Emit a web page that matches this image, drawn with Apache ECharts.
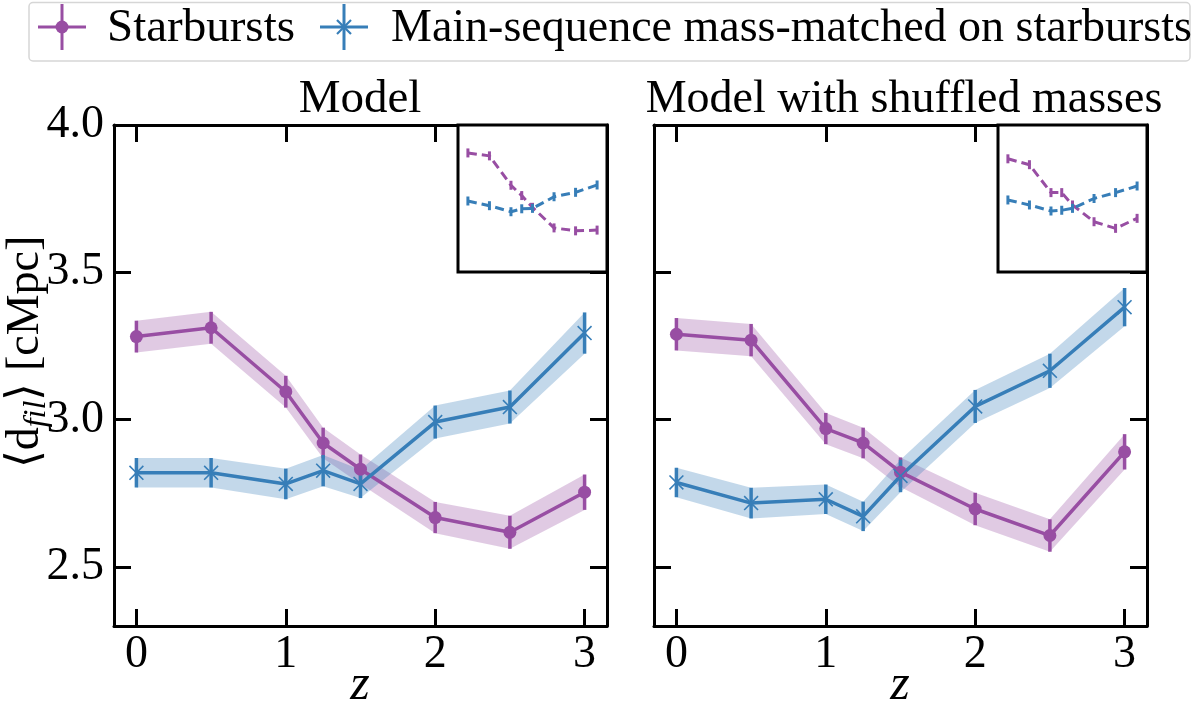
<!DOCTYPE html>
<html><head><meta charset="utf-8">
<script src="https://cdn.jsdelivr.net/npm/echarts@6/dist/echarts.min.js"></script>
<style>html,body{margin:0;padding:0;background:#fff;font-family:'Liberation Serif'}#c{width:1200px;height:714px}</style>
</head><body><div id="c"></div>
<script>
// ---- data ----
const zValues = [0, 0.5, 1, 1.25, 1.5, 2, 2.5, 3];
const xTickValues = [0, 1, 2, 3];
const yTickValues = [2.5, 3.0, 3.5, 4.0];
const panelTitles = ['Model', 'Model with shuffled masses'];
const seriesNames = ['Starbursts', 'Main-sequence mass-matched on starbursts'];

// Panel 1: Model
const sbModel    = [3.282, 3.312, 3.095, 2.921, 2.832, 2.668, 2.618, 2.754];
const sbModelErr = [0.054, 0.054, 0.054, 0.052, 0.050, 0.053, 0.056, 0.060];
const msModel    = [2.820, 2.820, 2.782, 2.827, 2.782, 2.992, 3.043, 3.294];
const msModelErr = [0.050, 0.050, 0.052, 0.053, 0.048, 0.056, 0.056, 0.070];
// Panel 2: Model with shuffled masses
const sbShuf     = [3.290, 3.270, 2.970, 2.921, 2.822, 2.697, 2.607, 2.891];
const sbShufErr  = [0.055, 0.055, 0.053, 0.052, 0.050, 0.055, 0.055, 0.060];
const msShuf     = [2.787, 2.717, 2.730, 2.672, 2.809, 3.045, 3.166, 3.382];
const msShufErr  = [0.050, 0.052, 0.050, 0.050, 0.055, 0.056, 0.058, 0.065];
// Insets (relative units, 0 = inset bottom, 1 = inset top)
const insetSbModel = [0.81, 0.79, 0.59, 0.52, 0.44, 0.30, 0.28, 0.285];
const insetMsModel = [0.483, 0.451, 0.41, 0.43, 0.433, 0.512, 0.542, 0.592];
const insetSbShuf  = [0.77, 0.73, 0.54, 0.54, 0.456, 0.342, 0.297, 0.365];
const insetMsShuf  = [0.49, 0.456, 0.415, 0.42, 0.433, 0.50, 0.54, 0.585];

// ---- styles ----
const PURPLE = '#984ea3', BLUE = '#377eb8';
const FONT = 'Liberation Serif';
const QFONT = "'Liberation Serif'";
const chart = echarts.init(document.getElementById('c'), null, {renderer: 'canvas'});

const xSymbol = 'path://M0,1.5L1.5,0L10,8.5L18.5,0L20,1.5L11.5,10L20,18.5L18.5,20L10,11.5L1.5,20L0,18.5L8.5,10Z';

const gBase = {outerBoundsMode: 'none', containLabel: false};
const grids = [
  Object.assign({left: 114, top: 125, width: 493, height: 501}, gBase),
  Object.assign({left: 654, top: 125, width: 493, height: 501}, gBase),
  Object.assign({left: 458, top: 125, width: 149, height: 147, show: true, backgroundColor: '#fff', borderColor: '#000', borderWidth: 3, z: 5}, gBase),
  Object.assign({left: 998, top: 125, width: 149, height: 147, show: true, backgroundColor: '#fff', borderColor: '#000', borderWidth: 3, z: 5}, gBase)
];

const axisLine = {show: true, onZero: false, lineStyle: {color: '#000', width: 3}};
const tick = (vals) => ({show: true, inside: true, length: 17, lineStyle: {color: '#000', width: 3}, customValues: vals});
const labelStyle = {fontFamily: FONT, fontSize: 46, color: '#000'};

const xAxes = [], yAxes = [];
for (let p = 0; p < 2; p++) {
  xAxes.push({type: 'value', gridIndex: p, min: -0.15, max: 3.15, position: 'bottom',
    axisLine, axisTick: tick(xTickValues), splitLine: {show: false},
    axisLabel: Object.assign({show: true, margin: 6, customValues: xTickValues, formatter: v => String(v)}, labelStyle)});
  xAxes.push({type: 'value', gridIndex: p, min: -0.15, max: 3.15, position: 'top',
    axisLine, axisTick: tick(xTickValues), splitLine: {show: false}, axisLabel: {show: false}});
  yAxes.push({type: 'value', gridIndex: p, min: 2.3, max: 4.0, position: 'left',
    axisLine, axisTick: tick(yTickValues), splitLine: {show: false},
    axisLabel: Object.assign({show: p === 0, margin: 10, customValues: yTickValues, formatter: v => v.toFixed(1)}, labelStyle)});
  yAxes.push({type: 'value', gridIndex: p, min: 2.3, max: 4.0, position: 'right',
    axisLine, axisTick: tick(yTickValues), splitLine: {show: false}, axisLabel: {show: false}});
}
// inset axes
for (let p = 0; p < 2; p++) {
  xAxes.push({type: 'value', gridIndex: 2 + p, min: -0.23, max: 3.23, show: false});
  yAxes.push({type: 'value', gridIndex: 2 + p, min: 0, max: 1, show: false});
}

function bandSeries(ys, es, color, xi, yi) {
  const data = zValues.map((x, i) => [x, ys[i] - es[i], ys[i] + es[i]]);
  return {
    type: 'custom', xAxisIndex: xi, yAxisIndex: yi, z: 1, silent: true,
    data, encode: {x: 0, y: [1, 2]},
    renderItem(params, api) {
      if (params.dataIndex !== 0) return null;
      const upper = data.map(d => api.coord([d[0], d[2]]));
      const lower = data.map(d => api.coord([d[0], d[1]])).reverse();
      return {type: 'polygon', shape: {points: upper.concat(lower)}, style: {fill: color, opacity: 0.3}};
    }
  };
}
function errSeries(ys, es, color, xi, yi) {
  const data = zValues.map((x, i) => [x, ys[i] - es[i], ys[i] + es[i]]);
  return {
    type: 'custom', xAxisIndex: xi, yAxisIndex: yi, z: 3, silent: true,
    data, encode: {x: 0, y: [1, 2]},
    renderItem(params, api) {
      const a = api.coord([api.value(0), api.value(1)]);
      const b = api.coord([api.value(0), api.value(2)]);
      return {type: 'line', shape: {x1: a[0], y1: a[1], x2: b[0], y2: b[1]}, style: {stroke: color, lineWidth: 3.5}};
    }
  };
}
function lineSeries(name, ys, color, symbol, size, xi, yi) {
  return {
    name, type: 'line', xAxisIndex: xi, yAxisIndex: yi, z: 4, silent: true,
    data: zValues.map((x, i) => [x, ys[i]]),
    symbol, symbolSize: size, showSymbol: true,
    itemStyle: {color, opacity: 1}, lineStyle: {color, width: 3.5}, animation: false
  };
}
function insetSeries(ys, color, xi, yi) {
  return {
    type: 'line', xAxisIndex: xi, yAxisIndex: yi, z: 6, silent: true,
    data: zValues.map((x, i) => [x, ys[i]]),
    symbol: 'rect', symbolSize: [3, 9], showSymbol: true,
    itemStyle: {color}, lineStyle: {color, width: 3, type: [9, 5]}, animation: false
  };
}

const series = [];
const panels = [
  [sbModel, sbModelErr, msModel, msModelErr],
  [sbShuf, sbShufErr, msShuf, msShufErr]
];
panels.forEach((pd, p) => {
  const xi = p * 2, yi = p * 2;
  series.push(bandSeries(pd[0], pd[1], PURPLE, xi, yi));
  series.push(bandSeries(pd[2], pd[3], BLUE, xi, yi));
  series.push(errSeries(pd[0], pd[1], PURPLE, xi, yi));
  series.push(errSeries(pd[2], pd[3], BLUE, xi, yi));
  series.push(lineSeries(seriesNames[0], pd[0], PURPLE, 'circle', 13, xi, yi));
  series.push(lineSeries(seriesNames[1], pd[2], BLUE, xSymbol, 15, xi, yi));
});
const insets = [[insetSbModel, insetMsModel], [insetSbShuf, insetMsShuf]];
insets.forEach((d, p) => {
  series.push(insetSeries(d[0], PURPLE, 4 + p, 4 + p));
  series.push(insetSeries(d[1], BLUE, 4 + p, 4 + p));
});

// ---- text and legend graphics ----
const txt = (text, x, y, size, align, italic) => ({
  type: 'text', x, y, silent: true,
  style: {
    text, fill: '#000', align: align || 'left', verticalAlign: 'middle',
    font: (italic ? 'italic ' : '') + size + 'px ' + QFONT,
    fontFamily: QFONT, fontSize: size, fontStyle: italic ? 'italic' : 'normal', fontWeight: 'normal'
  }
});
const legendIcon = (cx, cy, color, marker) => {
  const els = [
    {type: 'line', shape: {x1: cx - 24, y1: cy, x2: cx + 24, y2: cy}, style: {stroke: color, lineWidth: 3}},
    {type: 'line', shape: {x1: cx, y1: cy - 23, x2: cx, y2: cy + 23}, style: {stroke: color, lineWidth: 3}}
  ];
  if (marker === 'circle') {
    els.push({type: 'circle', shape: {cx, cy, r: 6.5}, style: {fill: color}});
  } else {
    els.push({type: 'line', shape: {x1: cx - 7, y1: cy - 7, x2: cx + 7, y2: cy + 7}, style: {stroke: color, lineWidth: 2.2}});
    els.push({type: 'line', shape: {x1: cx - 7, y1: cy + 7, x2: cx + 7, y2: cy - 7}, style: {stroke: color, lineWidth: 2.2}});
  }
  return els;
};

const graphics = [
  {type: 'rect', shape: {x: 29, y: 2.5, width: 1161, height: 58.5, r: 4}, style: {fill: '#fff', stroke: '#d6d6d6', lineWidth: 1.5}},
  ...legendIcon(62, 27, PURPLE, 'circle'),
  txt(seriesNames[0], 107, 29, 47),
  ...legendIcon(344, 27, BLUE, 'x'),
  txt(seriesNames[1], 391, 29, 46),
  txt(panelTitles[0], 360, 100, 47, 'center'),
  txt(panelTitles[1], 904, 100, 46, 'center'),
  txt('z', 360, 686, 50, 'center', true),
  txt('z', 900, 686, 50, 'center', true),
  {
    type: 'text', x: 26, y: 352, rotation: Math.PI / 2, silent: true,
    style: {
      text: '{a|⟨d}{s|fil}{a|⟩ [cMpc]}',
      font: '46px ' + QFONT, fontFamily: QFONT, fontSize: 46,
      align: 'center', verticalAlign: 'middle',
      rich: {
        a: {font: '46px ' + QFONT, fontFamily: QFONT, fontSize: 46, lineHeight: 54, fill: '#000'},
        s: {font: 'italic 32px ' + QFONT, fontFamily: QFONT, fontSize: 32, fontStyle: 'italic', lineHeight: 30, verticalAlign: 'bottom', fill: '#000'}
      }
    }
  }
];

const option = {
  animation: false,
  backgroundColor: '#fff',
  textStyle: {fontFamily: FONT},
  grid: grids,
  xAxis: xAxes,
  yAxis: yAxes,
  series,
  graphic: graphics
};
function draw() { chart.clear(); chart.setOption(option, true); }
draw();
if (document.fonts && document.fonts.load) {
  Promise.all([
    document.fonts.load("46px 'Liberation Serif'"),
    document.fonts.load("italic 46px 'Liberation Serif'")
  ]).then(draw, draw);
}
setTimeout(draw, 150);
</script></body></html>
